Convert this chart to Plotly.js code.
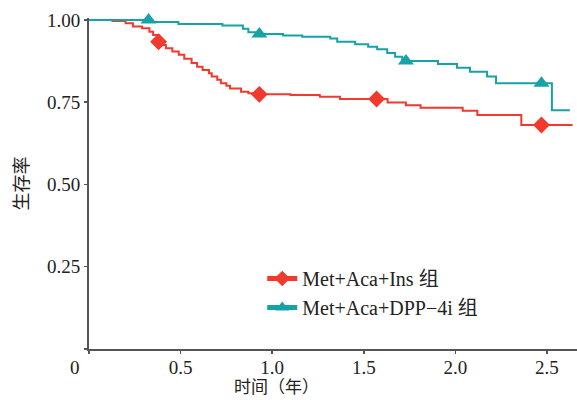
<!DOCTYPE html>
<html>
<head>
<meta charset="utf-8">
<script src="https://cdn.plot.ly/plotly-3.0.1.min.js"></script>
<style>html,body{margin:0;padding:0;background:#fff;}#chart{width:577px;height:400px;}</style>
</head>
<body>
<div id="chart"></div>
<script>
// Kaplan-Meier step data (time in years, survival)
var insTime = [0, 0.128, 0.20, 0.24, 0.29, 0.33, 0.35, 0.38, 0.40, 0.42, 0.455, 0.49, 0.52, 0.56, 0.59, 0.62, 0.655, 0.67, 0.70, 0.72, 0.75, 0.77, 0.83, 0.87, 0.93, 1.10, 1.26, 1.37, 1.63, 1.73, 1.81, 2.04, 2.12, 2.36, 2.64];
var insSurv = [1.000, 0.997, 0.990, 0.980, 0.975, 0.964, 0.954, 0.934, 0.924, 0.914, 0.904, 0.894, 0.882, 0.869, 0.858, 0.848, 0.838, 0.828, 0.818, 0.808, 0.800, 0.792, 0.782, 0.777, 0.774, 0.772, 0.767, 0.760, 0.749, 0.741, 0.733, 0.724, 0.711, 0.681, 0.681];
var insMarkX = [0.38, 0.93, 1.57, 2.47];

var dppTime = [0, 0.346, 0.488, 0.728, 0.84, 0.87, 0.92, 1.06, 1.164, 1.317, 1.355, 1.453, 1.524, 1.573, 1.628, 1.671, 1.71, 1.905, 2.009, 2.08, 2.173, 2.222, 2.527, 2.625];
var dppSurv = [1.000, 0.994, 0.988, 0.983, 0.973, 0.963, 0.957, 0.953, 0.949, 0.944, 0.934, 0.926, 0.919, 0.911, 0.900, 0.888, 0.875, 0.866, 0.855, 0.843, 0.828, 0.808, 0.726, 0.726];
var dppMarkX = [0.325, 0.93, 1.73, 2.47];

var xTickVals = [0, 0.5, 1.0, 1.5, 2.0, 2.5];
var xTickText = ['0\u00a0\u00a0\u00a0\u00a0\u00a0\u00a0', '0.5', '1.0', '1.5', '2.0', '2.5'];
var yTickVals = [0, 0.25, 0.5, 0.75, 1.0];
var yTickText = ['', '0.25', '0.50', '0.75', '1.00'];

var seriesNames = ['Met+Aca+Ins 组', 'Met+Aca+DPP\u22124i 组'];
var xTitle = '时间（年）';
var yTitle = '生存率';

function stepValue(ts, ss, x) {
  var v = ss[0];
  for (var i = 0; i < ts.length; i++) { if (ts[i] <= x) v = ss[i]; }
  return v;
}
function merge(ts, ss, marks, msize) {
  var pts = [];
  for (var i = 0; i < ts.length; i++) pts.push({x: ts[i], y: ss[i], s: 0});
  for (var j = 0; j < marks.length; j++) pts.push({x: marks[j], y: stepValue(ts, ss, marks[j]), s: msize});
  pts.sort(function(a, b){ return a.x - b.x || a.s - b.s; });
  return {x: pts.map(function(p){return p.x;}), y: pts.map(function(p){return p.y;}), s: pts.map(function(p){return p.s;})};
}
var a = merge(insTime, insSurv, insMarkX, 13);
var b = merge(dppTime, dppSurv, dppMarkX, 14);

var RED = '#f2392e', TEAL = '#16a2a7';
var serif = '"Liberation Serif", "Times New Roman", "Noto Sans CJK SC", serif';

var traces = [
  {x: a.x, y: a.y, name: seriesNames[0], mode: 'lines+markers', line: {shape: 'hv', color: RED, width: 2},
   marker: {symbol: 'diamond', size: a.s, color: RED, opacity: 1, line: {width: 0}}, cliponaxis: false},
  {x: b.x, y: b.y, name: seriesNames[1], mode: 'lines+markers', line: {shape: 'hv', color: TEAL, width: 2},
   marker: {symbol: 'triangle-up', size: b.s, color: TEAL, opacity: 1, line: {width: 0}}, cliponaxis: false}
];

var layout = {
  width: 577, height: 400,
  margin: {l: 89, r: 0, t: 18, b: 51},
  paper_bgcolor: '#ffffff', plot_bgcolor: '#ffffff',
  font: {family: serif, size: 19, color: '#222'},
  showlegend: true,
  legend: {x: 0.355, y: 0.272, xanchor: 'left', yanchor: 'top', bgcolor: 'rgba(0,0,0,0)',
           font: {family: serif, size: 20, color: '#222'}, itemsizing: 'constant', itemwidth: 30},
  xaxis: {range: [0, 2.664], tickvals: xTickVals, ticktext: xTickText, showgrid: false, zeroline: false,
          showline: true, linecolor: '#555', linewidth: 2, ticks: 'outside', ticklen: 3, tickwidth: 1.5, tickcolor: '#555',
          ticklabelstandoff: -3,
          tickfont: {family: serif, size: 19, color: '#222'}},
  yaxis: {range: [0, 1.006], tickvals: yTickVals, ticktext: yTickText, showgrid: false, zeroline: false,
          showline: true, linecolor: '#555', linewidth: 2, ticks: 'outside', ticklen: 3, tickwidth: 1.5, tickcolor: '#555',
          tickfont: {family: serif, size: 19, color: '#222'},
          title: {text: yTitle, font: {family: serif, size: 18, color: '#222'}, standoff: 14}},
  annotations: [
    {text: xTitle, xref: 'paper', yref: 'paper', x: 0.385, y: -0.083, xanchor: 'center', yanchor: 'top',
     showarrow: false, font: {family: serif, size: 17, color: '#222'}}
  ]
};

Plotly.newPlot('chart', traces, layout, {staticPlot: true, displayModeBar: false});
</script>
</body>
</html>
